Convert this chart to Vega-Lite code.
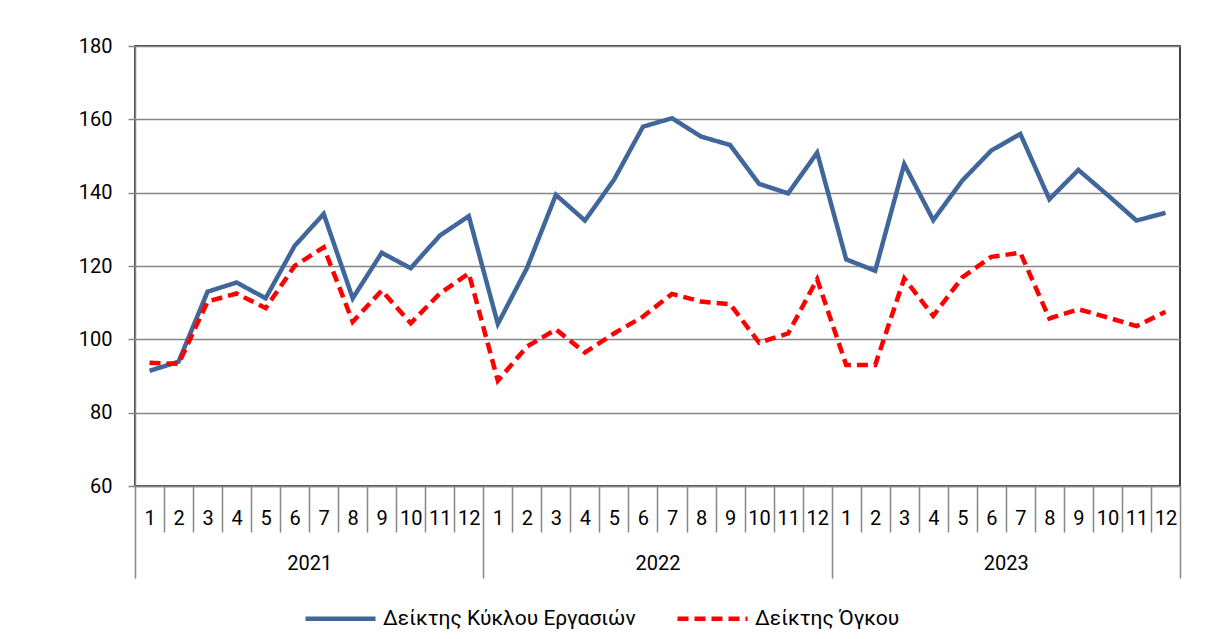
{
  "$schema": "https://vega.github.io/schema/vega-lite/v6.json",
  "width": 1045,
  "height": 440,
  "autosize": {"type": "none"},
  "padding": {"left": 135, "top": 46, "right": 42, "bottom": 153},
  "background": "white",
  "config": {
    "font": "Roboto",
    "view": {"stroke": "#000000", "strokeWidth": 1.5},
    "axis": {"labelColor": "#000000", "labelFontSize": 20, "labelFont": "Roboto", "domainColor": "#868686", "tickColor": "#868686", "domainWidth": 1.5, "tickWidth": 1.5}
  },
  "data": {
    "values": [
      {"period": "2021-01", "series": "Δείκτης Κύκλου Εργασιών", "value": 91.4},
      {"period": "2021-02", "series": "Δείκτης Κύκλου Εργασιών", "value": 93.9},
      {"period": "2021-03", "series": "Δείκτης Κύκλου Εργασιών", "value": 113.0},
      {"period": "2021-04", "series": "Δείκτης Κύκλου Εργασιών", "value": 115.5},
      {"period": "2021-05", "series": "Δείκτης Κύκλου Εργασιών", "value": 111.2},
      {"period": "2021-06", "series": "Δείκτης Κύκλου Εργασιών", "value": 125.5},
      {"period": "2021-07", "series": "Δείκτης Κύκλου Εργασιών", "value": 134.2},
      {"period": "2021-08", "series": "Δείκτης Κύκλου Εργασιών", "value": 111.2},
      {"period": "2021-09", "series": "Δείκτης Κύκλου Εργασιών", "value": 123.6},
      {"period": "2021-10", "series": "Δείκτης Κύκλου Εργασιών", "value": 119.4},
      {"period": "2021-11", "series": "Δείκτης Κύκλου Εργασιών", "value": 128.3},
      {"period": "2021-12", "series": "Δείκτης Κύκλου Εργασιών", "value": 133.6},
      {"period": "2022-01", "series": "Δείκτης Κύκλου Εργασιών", "value": 104.2},
      {"period": "2022-02", "series": "Δείκτης Κύκλου Εργασιών", "value": 119.4},
      {"period": "2022-03", "series": "Δείκτης Κύκλου Εργασιών", "value": 139.4},
      {"period": "2022-04", "series": "Δείκτης Κύκλου Εργασιών", "value": 132.4},
      {"period": "2022-05", "series": "Δείκτης Κύκλου Εργασιών", "value": 143.5},
      {"period": "2022-06", "series": "Δείκτης Κύκλου Εργασιών", "value": 158.0},
      {"period": "2022-07", "series": "Δείκτης Κύκλου Εργασιών", "value": 160.3},
      {"period": "2022-08", "series": "Δείκτης Κύκλου Εργασιών", "value": 155.3},
      {"period": "2022-09", "series": "Δείκτης Κύκλου Εργασιών", "value": 153.0},
      {"period": "2022-10", "series": "Δείκτης Κύκλου Εργασιών", "value": 142.4},
      {"period": "2022-11", "series": "Δείκτης Κύκλου Εργασιών", "value": 139.8},
      {"period": "2022-12", "series": "Δείκτης Κύκλου Εργασιών", "value": 150.9},
      {"period": "2023-01", "series": "Δείκτης Κύκλου Εργασιών", "value": 121.8},
      {"period": "2023-02", "series": "Δείκτης Κύκλου Εργασιών", "value": 118.7},
      {"period": "2023-03", "series": "Δείκτης Κύκλου Εργασιών", "value": 147.8},
      {"period": "2023-04", "series": "Δείκτης Κύκλου Εργασιών", "value": 132.5},
      {"period": "2023-05", "series": "Δείκτης Κύκλου Εργασιών", "value": 143.3},
      {"period": "2023-06", "series": "Δείκτης Κύκλου Εργασιών", "value": 151.5},
      {"period": "2023-07", "series": "Δείκτης Κύκλου Εργασιών", "value": 156.0},
      {"period": "2023-08", "series": "Δείκτης Κύκλου Εργασιών", "value": 138.2},
      {"period": "2023-09", "series": "Δείκτης Κύκλου Εργασιών", "value": 146.2},
      {"period": "2023-10", "series": "Δείκτης Κύκλου Εργασιών", "value": 139.4},
      {"period": "2023-11", "series": "Δείκτης Κύκλου Εργασιών", "value": 132.4},
      {"period": "2023-12", "series": "Δείκτης Κύκλου Εργασιών", "value": 134.5},
      {"period": "2021-01", "series": "Δείκτης Όγκου", "value": 93.6},
      {"period": "2021-02", "series": "Δείκτης Όγκου", "value": 93.3},
      {"period": "2021-03", "series": "Δείκτης Όγκου", "value": 110.3},
      {"period": "2021-04", "series": "Δείκτης Όγκου", "value": 112.5},
      {"period": "2021-05", "series": "Δείκτης Όγκου", "value": 108.5},
      {"period": "2021-06", "series": "Δείκτης Όγκου", "value": 120.0},
      {"period": "2021-07", "series": "Δείκτης Όγκου", "value": 125.1},
      {"period": "2021-08", "series": "Δείκτης Όγκου", "value": 104.8},
      {"period": "2021-09", "series": "Δείκτης Όγκου", "value": 113.3},
      {"period": "2021-10", "series": "Δείκτης Όγκου", "value": 104.4},
      {"period": "2021-11", "series": "Δείκτης Όγκου", "value": 112.5},
      {"period": "2021-12", "series": "Δείκτης Όγκου", "value": 118.0},
      {"period": "2022-01", "series": "Δείκτης Όγκου", "value": 88.7},
      {"period": "2022-02", "series": "Δείκτης Όγκου", "value": 98.0},
      {"period": "2022-03", "series": "Δείκτης Όγκου", "value": 102.7},
      {"period": "2022-04", "series": "Δείκτης Όγκου", "value": 96.4},
      {"period": "2022-05", "series": "Δείκτης Όγκου", "value": 101.6},
      {"period": "2022-06", "series": "Δείκτης Όγκου", "value": 106.2},
      {"period": "2022-07", "series": "Δείκτης Όγκου", "value": 112.4},
      {"period": "2022-08", "series": "Δείκτης Όγκου", "value": 110.3},
      {"period": "2022-09", "series": "Δείκτης Όγκου", "value": 109.6},
      {"period": "2022-10", "series": "Δείκτης Όγκου", "value": 99.1},
      {"period": "2022-11", "series": "Δείκτης Όγκου", "value": 101.6},
      {"period": "2022-12", "series": "Δείκτης Όγκου", "value": 116.4},
      {"period": "2023-01", "series": "Δείκτης Όγκου", "value": 93.0},
      {"period": "2023-02", "series": "Δείκτης Όγκου", "value": 93.0},
      {"period": "2023-03", "series": "Δείκτης Όγκου", "value": 116.6},
      {"period": "2023-04", "series": "Δείκτης Όγκου", "value": 106.4},
      {"period": "2023-05", "series": "Δείκτης Όγκου", "value": 116.9},
      {"period": "2023-06", "series": "Δείκτης Όγκου", "value": 122.5},
      {"period": "2023-07", "series": "Δείκτης Όγκου", "value": 123.6},
      {"period": "2023-08", "series": "Δείκτης Όγκου", "value": 105.7},
      {"period": "2023-09", "series": "Δείκτης Όγκου", "value": 108.2},
      {"period": "2023-10", "series": "Δείκτης Όγκου", "value": 106.0},
      {"period": "2023-11", "series": "Δείκτης Όγκου", "value": 103.6},
      {"period": "2023-12", "series": "Δείκτης Όγκου", "value": 107.5}
    ]
  },
  "layer": [
    {
      "mark": {"type": "line", "strokeWidth": 4.5},
      "encoding": {
        "x": {
          "field": "period", "type": "ordinal",
          "scale": {"type": "point", "padding": 0.5},
          "axis": {"orient": "bottom", "title": null, "labelAngle": 0, "labelOverlap": false, "grid": false, "tickOffset": -14.514, "labelOffset": 14.514, "tickSize": {"condition": {"test": "slice(datum.value, 5) == '01'", "value": 92}, "value": 46}, "labelPadding": {"condition": {"test": "slice(datum.value, 5) == '01'", "value": -60}, "value": -14}, "labelBaseline": "middle", "labelExpr": "toNumber(slice(datum.value, 5))"}
        },
        "y": {
          "field": "value", "type": "quantitative",
          "scale": {"domain": [60, 180], "nice": false, "zero": false},
          "axis": {"title": null, "values": [60, 80, 100, 120, 140, 160, 180], "grid": true, "gridColor": "#868686", "gridWidth": 1.5, "tickSize": 7, "labelPadding": 16}
        },
        "color": {
          "field": "series", "type": "nominal",
          "scale": {"domain": ["Δείκτης Κύκλου Εργασιών", "Δείκτης Όγκου"], "range": ["#41679A", "#FF0000"]},
          "legend": {"title": null, "orient": "none", "legendX": 168, "legendY": 535, "direction": "horizontal", "symbolType": "stroke", "symbolSize": 4900, "symbolStrokeWidth": 4.5, "labelFontSize": 21, "labelColor": "#000000", "labelOffset": 5, "columnPadding": 32, "labelLimit": 400}
        },
        "strokeDash": {
          "field": "series", "type": "nominal",
          "scale": {"domain": ["Δείκτης Κύκλου Εργασιών", "Δείκτης Όγκου"], "range": [[1, 0], [11, 6]]},
          "legend": {"title": null, "orient": "none", "legendX": 168, "legendY": 535, "direction": "horizontal", "symbolType": "stroke", "symbolSize": 4900, "symbolStrokeWidth": 4.5, "labelFontSize": 21, "labelColor": "#000000", "labelOffset": 5, "columnPadding": 32, "labelLimit": 400}
        }
      }
    },
    {
      "mark": {"type": "line", "strokeOpacity": 0},
      "encoding": {
        "x": {
          "field": "period", "type": "ordinal",
          "scale": {"type": "point", "padding": 0.5},
          "axis": {"orient": "bottom", "title": null, "values": ["2021-07", "2022-07", "2023-07", "2023-12"], "labelAngle": 0, "labelOverlap": false, "grid": false, "domain": false, "tickOffset": 14.514, "labelOffset": -29.028, "tickSize": 92, "tickOpacity": {"condition": {"test": "datum.value == '2023-12'", "value": 1}, "value": 0}, "labelPadding": -15, "labelBaseline": "middle", "labelExpr": "slice(datum.value, 5) == '12' ? '' : slice(datum.value, 0, 4)"}
        },
        "y": {"field": "value", "type": "quantitative"},
        "detail": {"field": "series", "type": "nominal"}
      }
    }
  ],
  "resolve": {"axis": {"x": "independent"}}
}
